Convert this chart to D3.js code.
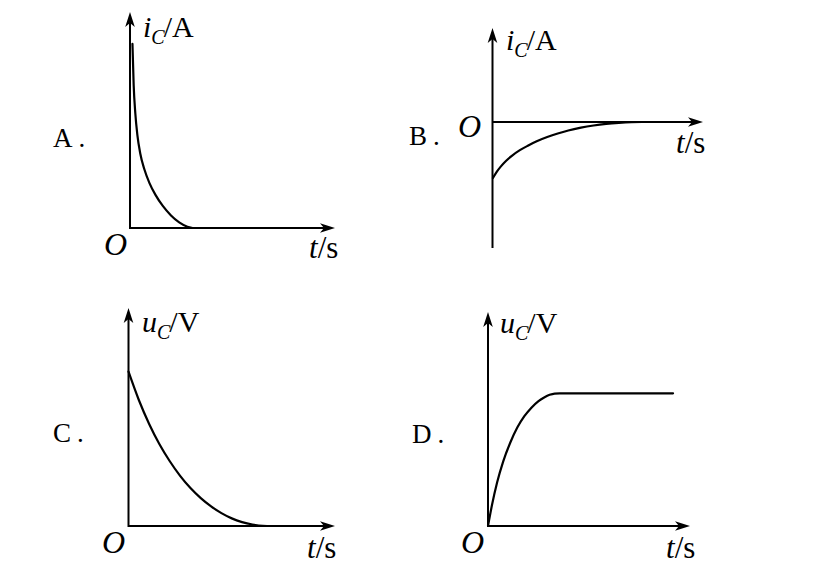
<!DOCTYPE html>
<html>
<head>
<meta charset="utf-8">
<script src="https://cdn.jsdelivr.net/npm/d3@7"></script>
<style>
  html, body { margin: 0; padding: 0; background: #fff; }
  svg { display: block; }
  text { font-family: "Liberation Serif", "Times New Roman", serif; fill: #000; }
</style>
</head>
<body>
<svg id="chart" width="830" height="570"></svg>
<script>
// ---------- data ----------
const panelLabels = ["A", "B", "C", "D"];
const yVarMain = ["i", "i", "u", "u"];
const yVarSub = ["C", "C", "C", "C"];
const yUnits = ["/A", "/A", "/V", "/V"];
const xVar = "t";
const xUnit = "/s";
const originLabel = "O";

// Panel A: i_C decays very quickly
const tA = [0.12, 0.18, 0.26, 0.36, 0.5, 0.7, 0.95, 1.25, 1.6, 2.0, 2.4, 2.8, 3.05];
const iA = [8.52, 6.6, 5.3, 4.3, 3.45, 2.72, 2.08, 1.52, 1.02, 0.58, 0.26, 0.06, 0];

// Panel B: negative i_C rising back to zero
const tB = [0.02, 0.2, 0.4, 0.65, 0.95, 1.3, 1.7, 2.1, 2.6, 3.1, 3.6, 4.2, 4.8, 5.4, 6.0, 6.6, 7.1];
const iB = [-5.96, -5.3, -4.72, -4.12, -3.55, -3.0, -2.5, -2.05, -1.6, -1.22, -0.9, -0.6, -0.37, -0.2, -0.09, -0.02, 0];

// Panel C: u_C decays
const tC = [0, 0.5, 1, 1.5, 2, 2.5, 3, 3.5, 4, 4.5, 5, 5.5, 6, 6.5, 7];
const uC = [7.08, 5.78, 4.68, 3.75, 2.97, 2.30, 1.74, 1.28, 0.90, 0.59, 0.35, 0.18, 0.07, 0.01, 0];

// Panel D: u_C rises then levels off
const tD = [0, 0.2, 0.45, 0.75, 1.1, 1.45, 1.8, 2.15, 2.5, 2.8, 3.05, 3.3, 3.55, 9.16];
const uD = [0, 0.99, 2.03, 3.01, 3.89, 4.6, 5.13, 5.53, 5.84, 6.02, 6.13, 6.19, 6.2, 6.2];

const series = [[tA, iA], [tB, iB], [tC, uC], [tD, uD]];

// ---------- layout ----------
const panels = [
  { xr: [130, 335], yr: [228, 12], yd: [0, 10],
    lab: [53, 147], ylab: [143, 37], o: [104, 255], xlab: [309, 258] },
  { xr: [492.5, 703], yr: [247, 28], yd: [-13.3, 10],
    lab: [409, 145], ylab: [506, 50], o: [458, 137], xlab: [676, 153] },
  { xr: [128.5, 335], yr: [526, 308], yd: [0, 10],
    lab: [53, 442], ylab: [142, 332], o: [102, 553], xlab: [307, 558] },
  { xr: [488, 690], yr: [526, 312], yd: [0, 10],
    lab: [412, 443], ylab: [500, 333], o: [461, 553], xlab: [666, 558] }
];

const svg = d3.select("#chart");

function arrowHead(g, x, y, angleDeg) {
  g.append("path")
    .attr("d", "M0,0 L-15,-4.8 L-11,0 L-15,4.8 Z")
    .attr("transform", `translate(${x},${y}) rotate(${angleDeg})`)
    .attr("fill", "#000");
}

panels.forEach((p, k) => {
  const g = svg.append("g");
  const x = d3.scaleLinear().domain([0, 10]).range(p.xr);
  const y = d3.scaleLinear().domain(p.yd).range(p.yr);

  // x axis
  g.append("line")
    .attr("x1", x(0)).attr("y1", y(0))
    .attr("x2", x(10) - 8).attr("y2", y(0))
    .attr("stroke", "#000").attr("stroke-width", 2);
  arrowHead(g, x(10), y(0), 0);

  // y axis
  g.append("line")
    .attr("x1", x(0)).attr("y1", y(p.yd[0]) + 1)
    .attr("x2", x(0)).attr("y2", y(10) + 8)
    .attr("stroke", "#000").attr("stroke-width", 2);
  arrowHead(g, x(0), y(10), -90);

  // curve
  const [ts, vs] = series[k];
  const pts = ts.map((t, i) => [t, vs[i]]);
  g.append("path")
    .datum(pts)
    .attr("fill", "none")
    .attr("stroke", "#000")
    .attr("stroke-width", 2.2)
    .attr("stroke-linecap", "round")
    .attr("stroke-linejoin", "round")
    .attr("d", d3.line().x(d => x(d[0])).y(d => y(d[1])).curve(d3.curveMonotoneX));

  // option label
  const lt = g.append("text").attr("x", p.lab[0]).attr("y", p.lab[1]).attr("font-size", 27);
  lt.append("tspan").text(panelLabels[k]);
  lt.append("tspan").attr("dx", 6).text(".");

  // y label
  const yt = g.append("text").attr("x", p.ylab[0]).attr("y", p.ylab[1]).attr("font-size", 30);
  yt.append("tspan").attr("font-style", "italic").text(yVarMain[k]);
  yt.append("tspan").attr("font-style", "italic").attr("font-size", 20).attr("dy", 7).text(yVarSub[k]);
  yt.append("tspan").attr("dy", -7).attr("dx", -1).text(yUnits[k]);

  // origin
  g.append("text").attr("x", p.o[0]).attr("y", p.o[1]).attr("font-size", 32)
    .attr("font-style", "italic").text(originLabel);

  // x label
  const xt = g.append("text").attr("x", p.xlab[0]).attr("y", p.xlab[1]).attr("font-size", 31);
  xt.append("tspan").attr("font-style", "italic").text(xVar);
  xt.append("tspan").text(xUnit);
});
</script>
</body>
</html>
